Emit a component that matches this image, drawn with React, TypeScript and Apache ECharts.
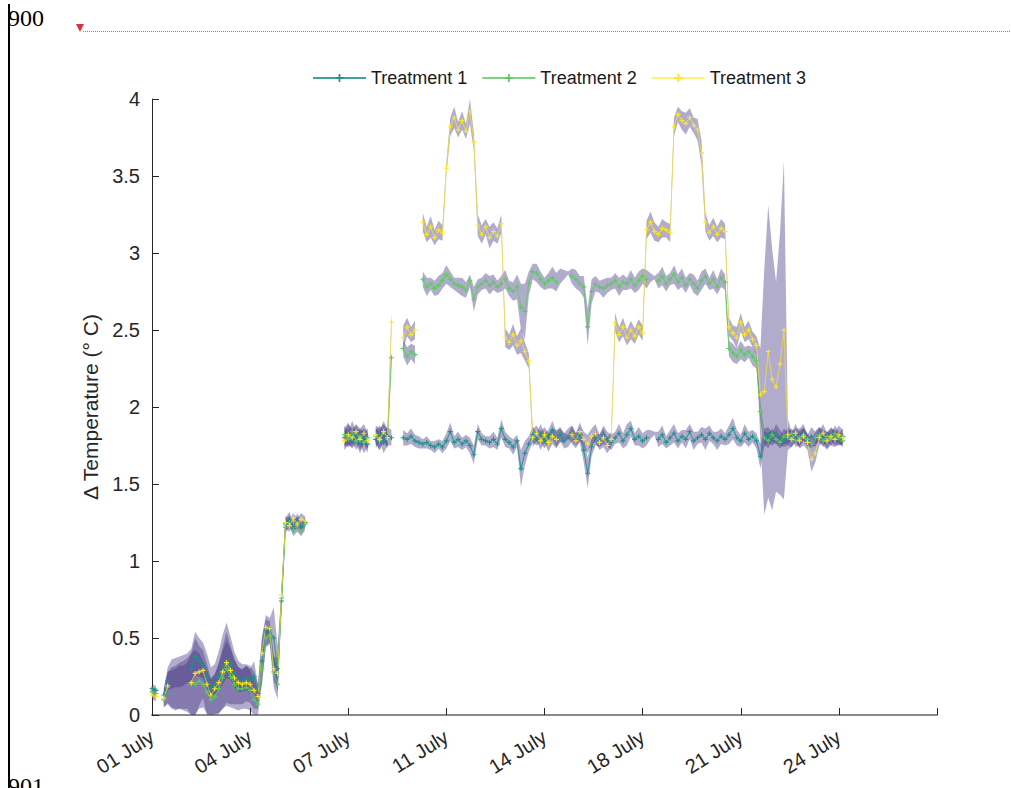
import React, { useEffect, useRef } from "react";
import * as echarts from "echarts";

// Sample grid: 25 samples between consecutive date ticks.
const SAMPLES_PER_TICK = 25;
const xTickLabels = ["01 July", "04 July", "07 July", "11 July", "14 July", "18 July", "21 July", "24 July", ""];
const seriesNames = ["Treatment 1", "Treatment 2", "Treatment 3"];
const Y_MIN = 0;
const Y_MAX = 4;

const N = null;

// Treatment 1: mean temperature difference per sample (°C)
const t1 = [
  0.17, 0.16, N, 0.13, 0.22, 0.24, 0.25, 0.26, 0.27, 0.29,
  0.3, 0.38, 0.35, 0.33, 0.25, 0.17, 0.2, 0.25, 0.31, 0.36,
  0.33, 0.27, 0.23, 0.22, 0.24, 0.22, 0.25, 0.14, 0.35, 0.55,
  0.55, 0.5, 0.3, 0.74, 1.24, 1.28, 1.21, 1.27, 1.22, 1.25,
  N, N, N, N, N, N, N, N, N, 1.8,
  1.83, 1.78, 1.82, 1.77, 1.81, 1.76, N, 1.79, 1.83, 1.77,
  1.81, 1.8, N, N, 1.8, 1.79, 1.81, 1.78, 1.77, 1.76,
  1.77, 1.75, 1.74, 1.76, 1.74, 1.78, 1.84, 1.77, 1.79, 1.76,
  1.78, 1.75, 1.69, 1.84, 1.79, 1.78, 1.77, 1.79, 1.76, 1.86,
  1.79, 1.77, 1.74, 1.78, 1.6, 1.7, 1.76, 1.82, 1.79, 1.83,
  1.78, 1.81, 1.85, 1.79, 1.82, 1.78, 1.8, 1.83, 1.79, 1.82,
  1.72, 1.57, 1.74, 1.8, 1.78, 1.82, 1.79, 1.77, 1.8, 1.83,
  1.78, 1.82, 1.86, 1.79, 1.81, 1.78, 1.8, 1.82, 1.83, 1.79,
  1.82, 1.77, 1.8, 1.83, 1.78, 1.81, 1.79, 1.84, 1.78, 1.8,
  1.82, 1.79, 1.83, 1.8, 1.78, 1.81, 1.79, 1.82, 1.86, 1.8,
  1.78, 1.83, 1.79, 1.81, 1.78, 1.68, 1.8, 1.82, 1.79, 1.83,
  1.8, 1.78, 1.81, 1.79, 1.82, 1.8, 1.84, 1.78, 1.81, 1.79,
  1.83, 1.8, 1.78, 1.82, 1.8, 1.79, 1.81,
];
// Treatment 1: standard deviation per sample
const sd1 = [
  0.03, 0.03, N, 0.04, 0.06, 0.07, 0.07, 0.08, 0.08, 0.08,
  0.1, 0.12, 0.1, 0.09, 0.08, 0.07, 0.07, 0.09, 0.11, 0.12,
  0.1, 0.09, 0.08, 0.07, 0.08, 0.08, 0.1, 0.06, 0.15, 0.1,
  0.08, 0.2, 0.15, 0.05, 0.04, 0.04, 0.03, 0.04, 0.04, 0.03,
  N, N, N, N, N, N, N, N, N, 0.06,
  0.07, 0.05, 0.06, 0.07, 0.05, 0.06, N, 0.06, 0.05, 0.07,
  0.06, 0.05, N, N, 0.05, 0.04, 0.05, 0.04, 0.04, 0.03,
  0.04, 0.03, 0.04, 0.03, 0.04, 0.05, 0.06, 0.04, 0.05, 0.04,
  0.04, 0.05, 0.06, 0.05, 0.04, 0.03, 0.04, 0.05, 0.04, 0.06,
  0.05, 0.04, 0.05, 0.04, 0.12, 0.08, 0.05, 0.05, 0.04, 0.06,
  0.05, 0.04, 0.06, 0.05, 0.04, 0.05, 0.06, 0.05, 0.04, 0.05,
  0.08, 0.1, 0.06, 0.05, 0.04, 0.06, 0.05, 0.05, 0.04, 0.06,
  0.05, 0.07, 0.05, 0.04, 0.06, 0.05, 0.05, 0.03, 0.01, 0.05,
  0.06, 0.04, 0.05, 0.06, 0.05, 0.04, 0.06, 0.05, 0.06, 0.04,
  0.05, 0.07, 0.05, 0.04, 0.06, 0.05, 0.04, 0.06, 0.07, 0.05,
  0.04, 0.06, 0.05, 0.04, 0.05, 0.08, 0.06, 0.05, 0.04, 0.06,
  0.05, 0.04, 0.06, 0.05, 0.04, 0.06, 0.05, 0.04, 0.06, 0.05,
  0.04, 0.05, 0.06, 0.04, 0.05, 0.04, 0.05,
];

// Treatment 2
const t2 = [
  0.15, 0.14, N, 0.1, 0.18, 0.17, 0.17, 0.18, 0.18, 0.19,
  0.2, 0.2, 0.22, 0.2, 0.15, 0.1, 0.12, 0.17, 0.24, 0.3,
  0.25, 0.2, 0.17, 0.17, 0.18, 0.16, 0.1, 0.07, 0.3, 0.5,
  0.52, 0.28, 0.2, 0.76, 1.22, 1.25, 1.2, 1.23, 1.19, 1.24,
  N, N, N, N, N, N, N, N, N, 1.82,
  1.79, 1.84, 1.78, 1.81, 1.77, 1.8, N, 1.81, 1.78, 1.84,
  1.79, 2.32, N, N, 2.38, 2.33, 2.36, 2.34, N, 2.83,
  2.78, 2.8, 2.77, 2.79, 2.82, 2.86, 2.83, 2.8, 2.79, 2.78,
  2.76, 2.82, 2.7, 2.78, 2.8, 2.82, 2.79, 2.81, 2.78, 2.8,
  2.83, 2.77, 2.75, 2.78, 2.65, 2.62, 2.8, 2.88, 2.87, 2.83,
  2.8, 2.82, 2.84, 2.81, 2.85, 2.86, 2.87, 2.85, 2.83, 2.8,
  2.78, 2.52, 2.75, 2.8, 2.78, 2.77, 2.79, 2.8, 2.82, 2.78,
  2.81, 2.8, 2.83, 2.79, 2.82, 2.85, 2.83, 2.84, 2.84, 2.82,
  2.85, 2.8, 2.83, 2.86, 2.81, 2.84, 2.79, 2.83, 2.8, 2.77,
  2.82, 2.85, 2.8, 2.83, 2.78, 2.84, 2.81, 2.38, 2.35, 2.33,
  2.37, 2.34, 2.36, 2.33, 2.3, 1.97, 1.8, 1.78, 1.82, 1.79,
  1.77, 1.81, 1.8, 1.83, 1.78, 1.8, 1.82, 1.79, 1.76, 1.8,
  1.82, 1.78, 1.81, 1.79, 1.83, 1.8, 1.78,
];
const sd2 = [
  0.03, 0.03, N, 0.05, 0.1, 0.12, 0.13, 0.14, 0.14, 0.15,
  0.2, 0.22, 0.18, 0.15, 0.14, 0.13, 0.14, 0.16, 0.2, 0.24,
  0.2, 0.16, 0.14, 0.13, 0.14, 0.13, 0.12, 0.08, 0.1, 0.06,
  0.06, 0.1, 0.1, 0.05, 0.04, 0.03, 0.04, 0.04, 0.03, 0.04,
  N, N, N, N, N, N, N, N, N, 0.06,
  0.05, 0.07, 0.06, 0.05, 0.07, 0.06, N, 0.05, 0.06, 0.07,
  0.06, 0.05, N, N, 0.05, 0.06, 0.05, 0.06, N, 0.05,
  0.06, 0.04, 0.05, 0.06, 0.05, 0.06, 0.05, 0.04, 0.05, 0.06,
  0.05, 0.04, 0.08, 0.05, 0.04, 0.05, 0.06, 0.05, 0.04, 0.05,
  0.06, 0.05, 0.06, 0.08, 0.15, 0.18, 0.08, 0.05, 0.06, 0.05,
  0.04, 0.05, 0.07, 0.06, 0.05, 0.03, 0.01, 0.05, 0.06, 0.05,
  0.07, 0.12, 0.08, 0.05, 0.04, 0.06, 0.05, 0.04, 0.05, 0.06,
  0.05, 0.04, 0.06, 0.05, 0.06, 0.05, 0.06, 0.03, 0.01, 0.05,
  0.06, 0.05, 0.04, 0.06, 0.05, 0.06, 0.05, 0.04, 0.06, 0.05,
  0.06, 0.05, 0.04, 0.06, 0.05, 0.06, 0.05, 0.05, 0.06, 0.05,
  0.06, 0.05, 0.04, 0.06, 0.05, 0.06, 0.04, 0.05, 0.04, 0.03,
  0.04, 0.05, 0.04, 0.03, 0.04, 0.05, 0.04, 0.04, 0.03, 0.04,
  0.05, 0.04, 0.03, 0.04, 0.05, 0.04, 0.04,
];

// Treatment 3
const t3 = [
  0.13, 0.12, N, 0.11, 0.19, 0.2, 0.2, 0.21, 0.21, 0.21,
  0.21, 0.27, 0.28, 0.29, 0.2, 0.13, 0.17, 0.21, 0.28, 0.34,
  0.29, 0.24, 0.21, 0.2, 0.21, 0.2, 0.16, 0.12, 0.4, 0.57,
  0.56, 0.3, 0.27, 0.78, 1.25, 1.23, 1.28, 1.24, 1.27, 1.26,
  N, N, N, N, N, N, N, N, N, 1.78,
  1.82, 1.8, 1.84, 1.79, 1.83, 1.78, N, 1.82, 1.79, 1.84,
  1.8, 2.55, N, N, 2.45, 2.52, 2.47, 2.5, N, 3.2,
  3.12, 3.17, 3.1, 3.15, 3.13, 3.55, 3.82, 3.88, 3.8, 3.86,
  3.79, 3.92, 3.72, 3.18, 3.12, 3.17, 3.1, 3.14, 3.11, 3.19,
  2.45, 2.42, 2.47, 2.4, 2.43, 2.36, 2.3, 1.8, 1.83, 1.78,
  1.82, 1.77, 1.81, 1.79, 1.82, 1.8, 1.81, 1.82, 1.78, 1.84,
  1.79, 1.76, 1.81, 1.83, 1.77, 1.8, 1.75, 1.79, 2.55, 2.47,
  2.52, 2.45, 2.5, 2.46, 2.52, 2.48, 3.15, 3.2, 3.14, 3.12,
  3.16, 3.15, 3.13, 3.82, 3.9, 3.86, 3.84, 3.88, 3.83, 3.8,
  3.65, 3.2, 3.13, 3.17, 3.12, 3.16, 3.14, 2.52, 2.48, 2.45,
  2.55, 2.47, 2.5, 2.44, 2.4, 2.08, 2.1, 2.36, 2.18, 2.13,
  2.28, 2.5, 1.82, 1.79, 1.83, 1.78, 1.81, 1.77, 1.66, 1.7,
  1.8, 1.83, 1.78, 1.81, 1.79, 1.82, 1.8,
];
const sd3 = [
  0.03, 0.03, N, 0.06, 0.12, 0.16, 0.17, 0.17, 0.18, 0.19,
  0.22, 0.27, 0.22, 0.18, 0.2, 0.18, 0.16, 0.2, 0.24, 0.26,
  0.22, 0.17, 0.14, 0.13, 0.12, 0.12, 0.12, 0.08, 0.1, 0.05,
  0.05, 0.08, 0.1, 0.05, 0.04, 0.04, 0.03, 0.04, 0.04, 0.03,
  N, N, N, N, N, N, N, N, N, 0.06,
  0.07, 0.06, 0.05, 0.07, 0.06, 0.05, N, 0.06, 0.07, 0.05,
  0.06, 0.06, N, N, 0.08, 0.06, 0.05, 0.06, N, 0.06,
  0.05, 0.07, 0.05, 0.06, 0.05, 0.04, 0.06, 0.07, 0.05, 0.06,
  0.05, 0.08, 0.06, 0.07, 0.06, 0.05, 0.07, 0.06, 0.05, 0.06,
  0.06, 0.05, 0.07, 0.06, 0.08, 0.06, 0.05, 0.06, 0.05, 0.06,
  0.05, 0.06, 0.05, 0.06, 0.05, 0.03, 0.01, 0.06, 0.05, 0.06,
  0.05, 0.06, 0.05, 0.06, 0.05, 0.06, 0.05, 0.05, 0.06, 0.05,
  0.06, 0.05, 0.06, 0.05, 0.05, 0.05, 0.06, 0.07, 0.06, 0.05,
  0.06, 0.05, 0.06, 0.06, 0.05, 0.06, 0.07, 0.06, 0.05, 0.07,
  0.08, 0.06, 0.05, 0.06, 0.05, 0.06, 0.05, 0.06, 0.05, 0.07,
  0.06, 0.05, 0.06, 0.05, 0.06, 0.3, 0.8, 0.95, 0.85, 0.68,
  0.85, 1.1, 0.1, 0.05, 0.06, 0.05, 0.06, 0.05, 0.08, 0.06,
  0.05, 0.06, 0.05, 0.06, 0.05, 0.06, 0.05,
];

// Sample ranges where the mean trace is not recorded (only the spread is drawn)
const lineGaps1 = [[5, 9], [127, 128]];
const lineGaps2 = [[5, 9], [104, 106], [127, 128]];
const lineGaps3 = [[5, 9], [104, 106]];

const lineColors = ["#21918c", "#5ec962", "#fde725"];
const bandColor = "rgba(63, 47, 128, 0.4)";
const FONT = "'Liberation Sans', Arial, Helvetica, sans-serif";
const TEXT = "#262626";

const plusSymbol = "path://M-1,-0.22H1V0.22H-1Z M-0.22,-1H0.22V1H-0.22Z";

type Num = number | null;

function inGap(i: number, gaps: number[][]) {
  return gaps.some(([a, b]) => i >= a && i <= b);
}

function lineData(mean: Num[], gaps: number[][]) {
  return mean.map((v, i) => [i, v === null || inGap(i, gaps) ? "-" : v]);
}

const clampY = (v: number) => Math.max(Y_MIN, Math.min(Y_MAX, v));

// Mean ± sd envelope, drawn as one translucent polygon per contiguous run of samples.
function bandSeries(mean: Num[], sd: Num[], key: string) {
  return {
    type: "custom",
    name: key,
    silent: true,
    z: 1,
    data: [[0, 0]],
    renderItem: (_params: any, api: any) => {
      const runs: number[][] = [];
      let cur: number[] = [];
      mean.forEach((m, i) => {
        if (m === null || sd[i] === null) {
          if (cur.length) runs.push(cur);
          cur = [];
        } else cur.push(i);
      });
      if (cur.length) runs.push(cur);
      const children = runs
        .filter((r) => r.length > 1)
        .map((r) => {
          const upper = r.map((i) => api.coord([i, clampY((mean[i] as number) + (sd[i] as number))]));
          const lower = r
            .slice()
            .reverse()
            .map((i) => api.coord([i, clampY((mean[i] as number) - (sd[i] as number))]));
          return {
            type: "polygon",
            shape: { points: upper.concat(lower) },
            style: { fill: bandColor, stroke: "none" },
          };
        });
      return { type: "group", children };
    },
  };
}

function meanSeries(name: string, mean: Num[], gaps: number[][], color: string, lineOpacity: number) {
  return {
    type: "line",
    name,
    data: lineData(mean, gaps),
    connectNulls: false,
    symbol: plusSymbol,
    symbolSize: 5,
    showSymbol: true,
    showAllSymbol: true,
    itemStyle: { color },
    lineStyle: { color, width: 1.1, opacity: lineOpacity },
    z: 3,
  };
}

export default function App() {
  const ref = useRef<HTMLDivElement>(null);

  useEffect(() => {
    document.body.style.margin = "0";
    const chart = echarts.init(ref.current as HTMLDivElement, null, { renderer: "svg" });
    const option = {
      animation: false,
      backgroundColor: "#ffffff",
      grid: { left: 152, right: 74, top: 99, bottom: 73, containLabel: false },
      legend: {
        data: seriesNames,
        left: 307,
        top: 64,
        itemWidth: 53,
        itemHeight: 10,
        itemGap: 14,
        textStyle: { fontSize: 18, color: "#1a1a1a", fontFamily: FONT },
      },
      xAxis: {
        type: "value",
        min: 0,
        max: 8 * SAMPLES_PER_TICK,
        interval: SAMPLES_PER_TICK,
        offset: 2,
        axisLine: { show: true, lineStyle: { color: "#8a8a8a", width: 2 } },
        axisTick: { show: true, inside: true, length: 7, lineStyle: { color: TEXT } },
        splitLine: { show: false },
        axisLabel: {
          rotate: 32,
          margin: 18,
          fontSize: 20,
          color: TEXT,
          fontFamily: FONT,
          formatter: (v: number) => xTickLabels[Math.round(v / SAMPLES_PER_TICK)] ?? "",
        },
      },
      yAxis: {
        type: "value",
        min: Y_MIN,
        max: Y_MAX,
        interval: 0.5,
        axisLine: { show: true, lineStyle: { color: TEXT, width: 1 } },
        axisTick: { show: true, inside: true, length: 7, lineStyle: { color: TEXT } },
        splitLine: { show: false },
        axisLabel: { fontSize: 20, margin: 12, color: TEXT, fontFamily: FONT },
        name: "Δ Temperature (° C)",
        nameLocation: "middle",
        nameGap: 38,
        nameTextStyle: { fontSize: 21, color: TEXT, fontFamily: FONT },
      },
      series: [
        bandSeries(t1, sd1, "b1"),
        bandSeries(t2, sd2, "b2"),
        bandSeries(t3, sd3, "b3"),
        meanSeries(seriesNames[0], t1, lineGaps1, lineColors[0], 0.85),
        meanSeries(seriesNames[1], t2, lineGaps2, lineColors[1], 0.8),
        meanSeries(seriesNames[2], t3, lineGaps3, lineColors[2], 0.6),
      ],
      graphic: [
        {
          type: "line",
          shape: { x1: 9, y1: 4, x2: 9, y2: 788 },
          style: { stroke: "#000000", lineWidth: 2 },
          z: 10,
        },
        {
          type: "text",
          x: 8,
          y: 6,
          style: { text: "900", font: "24px 'Liberation Serif', 'Times New Roman', serif", fill: "#000000" },
          z: 10,
        },
        {
          type: "text",
          x: 8,
          y: 774,
          style: { text: "901", font: "24px 'Liberation Serif', 'Times New Roman', serif", fill: "#000000" },
          z: 10,
        },
        {
          type: "line",
          shape: { x1: 83, y1: 31.5, x2: 1011, y2: 31.5 },
          style: { stroke: "#e53935", lineWidth: 1, lineDash: [1, 1], opacity: 0.8 },
          z: 10,
        },
        {
          type: "polygon",
          shape: { points: [[76, 24], [84, 24], [80, 32]] },
          style: { fill: "#d9343c" },
          z: 10,
        },
      ],
    };
    chart.setOption(option as any);
    return () => chart.dispose();
  }, []);

  return (
    <div
      ref={ref}
      style={{ position: "absolute", left: 0, top: 0, width: 1011, height: 788 }}
    />
  );
}
